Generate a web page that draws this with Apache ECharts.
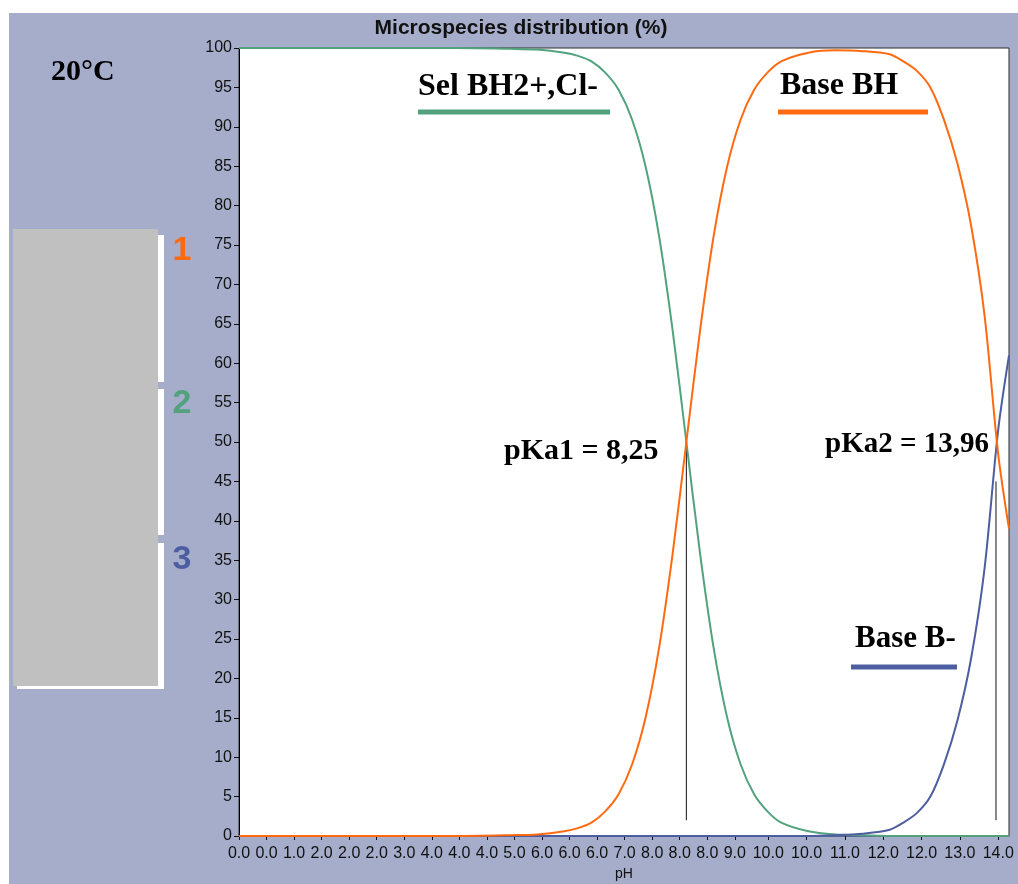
<!DOCTYPE html>
<html><head><meta charset="utf-8">
<script src="https://cdn.jsdelivr.net/npm/echarts@6/dist/echarts.min.js"></script>
<style>
html,body{margin:0;padding:0;background:#fff;}
#c{width:1018px;height:884px;background:linear-gradient(#a5adcb,#a5adcb) 9px 13px / 1009px 871px no-repeat,#fff;}
</style>
</head><body><div id="c"></div>
<script>
// ---- data ----
const pH = [0,1,2,3,4,5,5.5,6,6.25,6.5,6.75,7,7.25,7.5,7.75,8,8.25,8.5,8.75,9,9.25,9.5,9.75,10,10.5,11,11.5,12,12.25,12.5,12.75,13,13.25,13.5,13.75,14,14.2];
const selBH2 = [100,100,100,100,100,99.9,99.8,99.4,99.0,98.3,96.9,94.7,90.9,84.9,76.0,64.0,50.0,36.0,24.0,15.1,9.1,5.3,3.1,1.7,0.6,0.2,0.1,0,0,0,0,0,0,0,0,0,0];
const baseBH = [0,0,0,0,0,0.1,0.2,0.6,1.0,1.7,3.1,5.3,9.1,15.1,24.0,36.0,50.0,64.0,76.0,84.9,90.9,94.7,96.9,98.3,99.4,99.7,99.6,99.2,98.3,97.1,95.0,90.9,85.3,77.5,66.0,48.5,39.0];
const baseB = [0,0,0,0,0,0,0,0,0,0,0,0,0,0,0,0,0,0,0,0,0,0,0,0,0.0,0.1,0.3,0.8,1.7,2.9,5.0,9.1,14.7,22.5,34.0,51.5,61.0];
const seriesNames = ['Sel BH2+,Cl-', 'Base BH', 'Base B-'];
const pKaValues = [8.25, 13.96];
const pKaLabels = ['pKa1 = 8,25', 'pKa2 = 13,96'];
const pKaLineTop = [50, 45];
const pKaLineBottom = [2, 2];
const xTickPos = [0,0.508,1.016,1.524,2.032,2.540,3.048,3.556,4.064,4.572,5.080,5.588,6.096,6.604,7.112,7.620,8.128,8.636,9.144,9.760,10.468,11.175,11.881,12.589,13.295,14.001];
const xTickLabels = ['0.0','0.0','1.0','2.0','2.0','2.0','3.0','4.0','4.0','4.0','5.0','6.0','6.0','6.0','7.0','8.0','8.0','8.0','9.0','10.0','10.0','11.0','12.0','12.0','13.0','14.0'];
const xRange = [0, 14.2];
const yRange = [0, 100];
const yStep = 5;
const titleText = 'Microspecies distribution (%)';
const tempText = '20°C';
const xName = 'pH';
const sideNumbers = ['1', '2', '3'];

// ---- styles ----
const COL = ['#52a27e', '#ff6a10', '#4d5ea0'];
const SERIF = '"Liberation Serif","Times New Roman",serif';
const SANS = '"Liberation Sans",Arial,sans-serif';

const chart = echarts.init(document.getElementById('c'), null, {renderer: 'canvas'});

function curve(vals) { return pH.map((x, i) => [x, vals[i]]); }
function nearestLabel(v) {
  let best = 0, bd = Infinity;
  xTickPos.forEach((p, i) => { const d = Math.abs(p - v); if (d < bd) { bd = d; best = i; } });
  return xTickLabels[best];
}

const lineSeries = [
  {name: seriesNames[0], vals: selBH2, color: COL[0], z: 3},
  {name: seriesNames[2], vals: baseB, color: COL[2], z: 4},
  {name: seriesNames[1], vals: baseBH, color: COL[1], z: 5}
].map(s => ({
  type: 'line', name: s.name, data: curve(s.vals), showSymbol: false, smooth: 0.3,
  lineStyle: {color: s.color, width: 2}, itemStyle: {color: s.color}, z: s.z, silent: true,
  animation: false, clip: false
}));

const pKaSeries = pKaValues.map((v, i) => ({
  type: 'line', data: [[v, pKaLineBottom[i]], [v, pKaLineTop[i]]], showSymbol: false,
  lineStyle: {color: '#111', width: 1}, z: 2, silent: true, animation: false
}));

function txt(x, y, text, font, fill, align) {
  return {type: 'text', x: x, y: y, z: 50, style: {text: text, font: font, fill: fill, align: align || 'left', verticalAlign: 'middle'}};
}
function bar(x1, x2, y, color) {
  return {type: 'rect', z: 50, shape: {x: x1, y: y - 2.5, width: x2 - x1, height: 5}, style: {fill: color}};
}

const option = {
  animation: false,
  backgroundColor: 'transparent',
  grid: {left: 239, right: 9, top: 48, bottom: 48, show: true, backgroundColor: '#fff', borderColor: '#2a2a2a', borderWidth: 1, containLabel: false, outerBoundsMode: 'none'},
  xAxis: {
    type: 'value', min: xRange[0], max: xRange[1],
    name: xName, nameLocation: 'middle', nameGap: 31,
    nameTextStyle: {fontFamily: SANS, fontSize: 14, color: '#111'},
    axisLine: {show: true, onZero: false, lineStyle: {color: '#5b6793', width: 1}},
    axisTick: {show: true, length: 4, customValues: xTickPos, lineStyle: {color: '#111'}},
    axisLabel: {customValues: xTickPos, formatter: nearestLabel, fontFamily: SANS, fontSize: 16, color: '#111', margin: 10},
    splitLine: {show: false}
  },
  yAxis: {
    type: 'value', min: yRange[0], max: yRange[1], interval: yStep,
    axisLine: {show: true, lineStyle: {color: '#000', width: 1}},
    axisTick: {show: true, length: 5, lineStyle: {color: '#111'}},
    axisLabel: {fontFamily: SANS, fontSize: 16, color: '#111', margin: 7},
    splitLine: {show: false}
  },
  series: lineSeries.concat(pKaSeries),
  graphic: [
    {type: 'rect', z: 40, shape: {x: 17, y: 235, width: 147, height: 147}, style: {fill: '#fff'}},
    {type: 'rect', z: 40, shape: {x: 17, y: 389, width: 147, height: 146}, style: {fill: '#fff'}},
    {type: 'rect', z: 40, shape: {x: 17, y: 543, width: 147, height: 146}, style: {fill: '#fff'}},
    {type: 'rect', z: 41, shape: {x: 13, y: 229, width: 145, height: 457}, style: {fill: '#c0c0c0'}},
    txt(182, 251, sideNumbers[0], 'bold 34px ' + SANS, COL[1], 'center'),
    txt(182, 404, sideNumbers[1], 'bold 34px ' + SANS, COL[0], 'center'),
    txt(182, 560, sideNumbers[2], 'bold 34px ' + SANS, COL[2], 'center'),
    txt(521, 28, titleText, 'bold 21px ' + SANS, '#111', 'center'),
    txt(51, 72, tempText, 'bold 30px ' + SERIF, '#000'),
    txt(418, 87, seriesNames[0], 'bold 32px ' + SERIF, '#000'),
    bar(418, 610, 112, COL[0]),
    txt(780, 86, seriesNames[1], 'bold 32px ' + SERIF, '#000'),
    bar(778, 928, 112, COL[1]),
    txt(855, 639, seriesNames[2], 'bold 31px ' + SERIF, '#000'),
    bar(851, 957, 667, COL[2]),
    txt(504, 451, pKaLabels[0], 'bold 30px ' + SERIF, '#000'),
    txt(825, 445, pKaLabels[1], 'bold 29px ' + SERIF, '#000')
  ]
};
chart.setOption(option);
</script>
</body></html>
